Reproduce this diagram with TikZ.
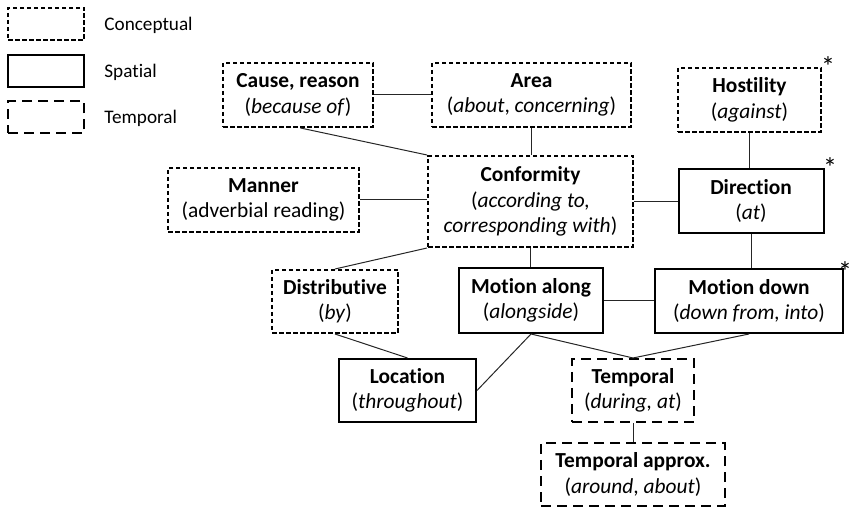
\documentclass[tikz,border=0pt]{standalone}
\usepackage{fontspec}
\setmainfont{Carlito}[Ligatures=NoCommon, Contextuals=NoAlternate]
\usepackage{tikz}

\tikzset{
  box/.style={align=center, inner sep=0pt, line width=1pt, font=\fontsize{10.7}{12.7}\selectfont},
  concept/.style={box, draw, dash pattern=on 2.25pt off 1.25pt},
  spatial/.style={box, draw},
  tempo/.style={box, draw, dash pattern=on 5pt off 3pt},
  link/.style={line width=0.5pt, black!85},
  key/.style={anchor=west, inner sep=0pt, font=\fontsize{9.6}{11}\selectfont},
  star/.style={inner sep=0pt, font=\fontsize{14}{15}\selectfont}
}

\begin{document}
\begin{tikzpicture}[x=0.5pt,y=-0.5pt]
        \useasboundingbox (0,0) rectangle (851,507);

        \node[concept, minimum width=38pt, minimum height=16pt] (keyc) at (46,24) {};
        \node[spatial, minimum width=38pt, minimum height=16pt] (keys) at (46,71) {};
        \node[tempo, minimum width=38pt, minimum height=16pt] (keyt) at (46,117.5) {};
        \node[key] (keyctext) at (104,25) {Conceptual};
        \node[key] (keystext) at (104,72) {Spatial};
        \node[key] (keyttext) at (104,118) {Temporal};

        \node[concept, minimum width=75pt, minimum height=32pt] (cause) at (298,95) {\textbf{Cause, reason}\\(\textit{because of})};
        \node[concept, minimum width=99.5pt, minimum height=32pt] (area) at (531.5,95) {\textbf{Area}\\(\textit{about}, \textit{concerning})};
        \node[concept, minimum width=71.5pt, minimum height=32pt] (host) at (749.5,100) {\textbf{Hostility}\\(\textit{against})};
        \node[concept, minimum width=102.5pt, minimum height=45.5pt] (conf) at (530.5,201.5) {\textbf{Conformity}\\(\textit{according to,}\\\textit{corresponding with})};
        \node[concept, minimum width=95.5pt, minimum height=32pt] (manner) at (263.5,200) {\textbf{Manner}\\(adverbial reading)};
        \node[spatial, minimum width=72.5pt, minimum height=32pt] (dir) at (751,201) {\textbf{Direction}\\(\textit{at})};
        \node[concept, minimum width=63pt, minimum height=31.5pt] (distr) at (335,301.5) {\textbf{Distributive}\\(\textit{by})};
        \node[spatial, minimum width=72pt, minimum height=32.5pt] (along) at (531,300.5) {\textbf{Motion along}\\(\textit{alongside})};
        \node[spatial, minimum width=94pt, minimum height=32pt] (down) at (749,301) {\textbf{Motion down}\\(\textit{down from, into})};
        \node[spatial, minimum width=68.5pt, minimum height=31.5pt] (loc) at (407.5,390.5) {\textbf{Location}\\(\textit{throughout})};
        \node[tempo, minimum width=61pt, minimum height=31.5pt] (temp) at (633,390.5) {\textbf{Temporal}\\(\textit{during, at})};
        \node[tempo, minimum width=92pt, minimum height=31.5pt] (approx) at (633,474.5) {\textbf{Temporal approx.}\\(\textit{around}, \textit{about})};

        \node[star] (hoststar) at (828,67) {*};
        \node[star] (dirstar) at (830,168) {*};
        \node[star] (downstar) at (845,272) {*};

        \draw[link] (cause.east) -- (area.west);
        \draw[link] (cause.south) ++(2.5,0) -- (conf.north west);
        \draw[link] (area.south) -- (area.south |- conf.north);
        \draw[link] (host.south) -- (host.south |- dir.north);
        \draw[link] (manner.east) -- (manner.east -| conf.west);
        \draw[link] (conf.east) -- (conf.east -| dir.west);
        \draw[link] (conf.south west) -- (distr.north);
        \draw[link] (conf.south) -- (conf.south |- along.north);
        \draw[link] (dir.south) -- (dir.south |- down.north);
        \draw[link] (along.east) -- (along.east -| down.west);
        \draw[link] (distr.south) -- (loc.north);
        \draw[link] (along.south) -- (loc.east);
        \draw[link] (along.south) -- (temp.north);
        \draw[link] (down.south) -- (temp.north);
        \draw[link] (temp.south) -- (approx.north);
    \end{tikzpicture}
\end{document}
